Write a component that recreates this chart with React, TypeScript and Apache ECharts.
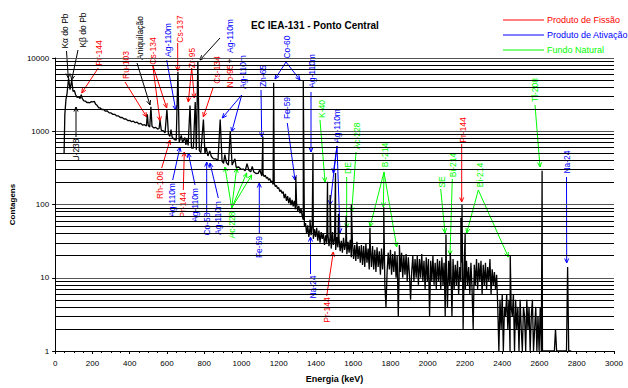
import React, { useEffect, useRef } from 'react';
import * as echarts from 'echarts';

// ---------- DATA ----------
// Low-energy part of the spectrum: [energy keV, counts]
const lowContinuum: [number, number][] = [
  [48, 500], [52, 1700], [58, 2700], [64, 3300],
  [110, 3150], [118, 2900], [126, 2950], [134, 2800], [146, 2780], [154, 2600], [162, 2580],
  [170, 2470], [178, 2480], [186, 2440], [194, 2540], [202, 2520], [210, 2560], [218, 2330],
  [226, 2240], [234, 2090], [242, 2080], [250, 1980], [260, 1990], [270, 1880], [280, 1890],
  [290, 1780], [300, 1780], [310, 1700], [320, 1700], [330, 1620], [340, 1620], [350, 1540],
  [360, 1540], [370, 1470], [380, 1470], [390, 1400], [400, 1410], [410, 1350], [420, 1370],
  [430, 1310], [440, 1330], [450, 1260], [460, 1280], [470, 1210], [480, 1230], [490, 1180],
  [500, 1200], [508, 1140], [520, 1170], [530, 1110], [540, 1130], [550, 1070], [558, 1090],
  [570, 1030], [580, 1020], [590, 950], [608, 910], [616, 850], [628, 830], [640, 770],
  [650, 755], [666, 705], [684, 700], [702, 650], [714, 640], [732, 590], [742, 590],
  [758, 560], [774, 545], [782, 510], [804, 495], [820, 460], [838, 455], [850, 420],
  [862, 420], [874, 395], [896, 390], [904, 365], [920, 370], [930, 345], [950, 345],
  [972, 322], [985, 325], [998, 302], [1010, 305], [1020, 288], [1040, 292], [1050, 280],
  [1066, 280], [1078, 265], [1090, 266],
];

// Noisy part of the spectrum: channel energies start at 1104 keV, 6 keV apart
const noisyStartEnergy = 1104;
const noisyStepEnergy = 6;
const noisyCounts: number[] = [
  268, 245, 262, 240, 250, 228, 236, 215, 226, 205,
  208, 188, 196, 176, 182, 165, 170, 150, 158, 142,
  150, 122, 140, 112, 130, 104, 124, 98, 116, 94,
  112, 86, 104, 82, 96, 76, 88, 70, 62, 50,
  56, 40, 52, 36, 48, 38, 54, 34, 46, 36,
  48, 32, 44, 30, 42, 34, 40, 28, 38, 30,
  40, 27, 36, 25, 38, 28, 34, 24, 36, 26,
  34, 23, 32, 22, 35, 24, 30, 21, 31, 22,
  33, 19, 30, 18, 28, 17, 31, 18, 27, 16,
  28, 15, 27, 14, 29, 16, 25, 13, 26, 14,
  27, 13, 24, 12, 26, 14, 23, 11, 25, 13,
  24, 8, 4, 12, 22, 13, 24, 11, 21, 12,
  23, 10, 20, 3, 18, 12, 22, 10, 20, 11,
  21, 9, 19, 11, 5, 12, 20, 9, 18, 10,
  20, 8, 18, 10, 21, 9, 17, 7, 19, 9,
  18, 3, 17, 9, 20, 8, 16, 7, 18, 9,
  17, 7, 19, 8, 16, 3, 15, 4, 17, 8,
  16, 3, 18, 7, 15, 8, 17, 6, 14, 9,
  16, 2, 15, 7, 17, 8, 14, 6, 16, 7,
  2, 15, 8, 18, 7, 16, 9, 17, 6, 15,
  8, 16, 7, 14, 9, 18, 6, 13, 8, 12,
  7, 11, 4, 1, 5, 2, 6, 1, 4, 3,
  6, 2, 5, 1, 4, 3, 6, 1, 5, 2,
  4, 1, 5, 2, 1, 4, 3, 1, 5, 2,
  4, 1, 3, 5, 1, 2, 4, 1, 3, 1,
  4, 1, 1, 1, 1, 1, 1,
];

// Empty channels after the Tl-208 line
const tailContinuum: [number, number][] = [
  [2646, 1], [2680, 1], [2692, 1], [2745, 1], [2757, 1], [2770, 1],
];

// Photopeaks: [energy keV, peak counts]
const peaks: [number, number][] = [
  [72, 5300], [80, 3700], [89, 5000], [96, 3500], [103, 3600], [140, 3150],
  [495, 1700], [514, 2150], [563, 1400], [600, 2000], [622, 1050], [659, 6500],
  [677, 880], [696, 820], [707, 780], [724, 2250], [752, 2500], [766, 8900],
  [796, 1450], [811, 600], [830, 540], [886, 1450], [911, 480], [940, 1000],
  [965, 420], [1030, 360], [1058, 330], [1099, 300],
  [1115, 850], [1173, 4600], [1292, 240], [1332, 4900], [1368, 62], [1384, 510],
  [1462, 205], [1476, 135], [1489, 42], [1505, 270], [1521, 75], [1562, 70],
  [1590, 100], [1690, 48], [1764, 92], [1848, 28], [2098, 39], [2121, 22],
  [2178, 66], [2184, 99], [2201, 41], [2443, 20], [2614, 290], [2686, 2], [2751, 14],
];

const decades = [1, 10, 100, 1000];
const minorMultipliers = [2, 3, 4, 5, 6, 7, 8, 9];

const legendItems = [
  { name: 'Produto de Fissão', color: '#ff0000' },
  { name: 'Produto de Ativação', color: '#0000ff' },
  { name: 'Fundo Natural', color: '#00ff00' },
];

// ---------- ANNOTATION LAYOUT (pixels) ----------
const RED = '#ff0000';
const BLUE = '#0000ff';
const GREEN = '#00ff00';
const BLACK = '#000000';

type Ann = { label: string; color: string; cx: number; cy: number; arrows: number[][] };
const annotations: Ann[] = [
  { label: 'Kα do Pb', color: BLACK, cx: 65, cy: 31, arrows: [[66.5, 51, 68.3, 78]] },
  { label: 'Kβ do Pb', color: BLACK, cx: 83, cy: 30, arrows: [[78, 50, 71.7, 80]] },
  { label: 'U-238', color: BLACK, cx: 76, cy: 150, arrows: [[76, 137, 76, 107]] },
  { label: 'Pr-144', color: RED, cx: 99, cy: 53, arrows: [[98.3, 68, 81.7, 93]] },
  { label: 'Ru-103', color: RED, cx: 126, cy: 65, arrows: [[125, 82, 146.7, 117]] },
  { label: 'Aniquilação', color: BLACK, cx: 140, cy: 38, arrows: [[137, 63, 150, 105]] },
  { label: 'Cs-134', color: RED, cx: 153.3, cy: 51, arrows: [[152.7, 65, 160, 121], [152.7, 65, 166.7, 108]] },
  { label: 'Ag-110m', color: BLUE, cx: 168.3, cy: 40, arrows: [[166.7, 60, 175.7, 110]] },
  { label: 'Cs-137', color: RED, cx: 180, cy: 29, arrows: [[177.7, 43, 177.7, 71]] },
  { label: 'Zr-95', color: RED, cx: 191.7, cy: 58, arrows: [[191.7, 68, 188.3, 102], [191.7, 68, 194.3, 98]] },
  { label: 'Cs-134', color: RED, cx: 216.7, cy: 70, arrows: [[213.3, 87, 203.3, 117]] },
  { label: 'Nb-95', color: RED, cx: 230, cy: 76, arrows: [] },
  { label: '+', color: BLACK, cx: 230, cy: 61, arrows: [[220, 38, 200, 60]] },
  { label: 'Ag-110m', color: BLUE, cx: 230, cy: 36, arrows: [] },
  { label: 'Ag-110m', color: BLUE, cx: 243.3, cy: 72, arrows: [[241.7, 95, 222.3, 118], [241.7, 95, 231.7, 132]] },
  { label: 'Zn-65', color: BLUE, cx: 263.3, cy: 76, arrows: [[261, 90, 261.7, 137]] },
  { label: 'Co-60', color: BLUE, cx: 287.3, cy: 47, arrows: [[286, 62, 275, 79], [286, 62, 300, 80]] },
  { label: 'Fe-59', color: BLUE, cx: 287.3, cy: 108, arrows: [[287.3, 123, 295, 180]] },
  { label: 'Ag-110m', color: BLUE, cx: 312.3, cy: 71, arrows: [[311, 92, 311, 152]] },
  { label: 'K-40', color: GREEN, cx: 322.3, cy: 109, arrows: [[320, 120, 325, 182]] },
  { label: 'Ag-110m', color: BLUE, cx: 337.3, cy: 126, arrows: [[337, 146, 330, 205], [337, 146, 333.3, 173], [337, 146, 340, 233]] },
  { label: 'DE', color: GREEN, cx: 348.3, cy: 168, arrows: [[346.7, 177, 346.7, 228]] },
  { label: 'Ac-228', color: GREEN, cx: 357.3, cy: 136, arrows: [[356, 152, 351.7, 212]] },
  { label: 'Bi-214', color: GREEN, cx: 385, cy: 155, arrows: [[384, 172, 370, 227], [384, 172, 383.3, 207], [384, 172, 396.7, 247]] },
  { label: 'SE', color: GREEN, cx: 441.7, cy: 182, arrows: [[440.7, 189, 445, 233]] },
  { label: 'Bi-214', color: GREEN, cx: 453.3, cy: 165, arrows: [[452.3, 179, 450, 255]] },
  { label: 'Pr-144', color: RED, cx: 462.7, cy: 130, arrows: [[461.7, 144, 461.7, 202]] },
  { label: 'Bi-214', color: GREEN, cx: 480, cy: 175, arrows: [[478.3, 190, 466.7, 233], [478.3, 190, 508.3, 257]] },
  { label: 'Tl-208', color: GREEN, cx: 535, cy: 90, arrows: [[535, 105, 540, 167]] },
  { label: 'Na-24', color: BLUE, cx: 566.7, cy: 162, arrows: [[566.5, 177, 566.7, 263]] },
  // labels below the spectrum
  { label: 'Rh-106', color: RED, cx: 160, cy: 185, arrows: [[161.7, 168, 170, 140]] },
  { label: 'Ag-110m', color: BLUE, cx: 171.7, cy: 200, arrows: [[172.7, 180, 180, 147]] },
  { label: 'Pr-144', color: RED, cx: 183.3, cy: 205, arrows: [[183.3, 190, 184.3, 152]] },
  { label: 'Ag-110m', color: BLUE, cx: 195, cy: 205, arrows: [[195, 185, 188.3, 153]] },
  { label: 'Co-58', color: BLUE, cx: 206.7, cy: 224, arrows: [[206.7, 213, 206.7, 162]] },
  { label: 'Ag-110m', color: BLUE, cx: 218.3, cy: 218, arrows: [[218.3, 198, 210, 163]] },
  { label: 'Ac-228', color: GREEN, cx: 231.7, cy: 225, arrows: [[231.7, 208, 225, 167], [231.7, 208, 236.7, 168], [231.7, 208, 246.7, 173], [231.7, 208, 251.7, 175]] },
  { label: 'Fe-59', color: BLUE, cx: 259.3, cy: 247, arrows: [[259.3, 233, 259.3, 183]] },
  { label: 'Na-24', color: BLUE, cx: 312.7, cy: 287, arrows: [[310.5, 274, 310.5, 237]] },
  { label: 'Pr-144', color: RED, cx: 327.3, cy: 310, arrows: [[326.7, 296, 333.3, 252]] },
];

const FONT_FAMILY = '"Liberation Sans", Arial, Helvetica, sans-serif';

function arrowElements(a: number[], color: string) {
  const [x1, y1, x2, y2] = a;
  const dx = x2 - x1;
  const dy = y2 - y1;
  const len = Math.hypot(dx, dy) || 1;
  const bx = -dx / len;
  const by = -dy / len;
  const L = 5;
  const ang = 0.42;
  const c = Math.cos(ang);
  const s = Math.sin(ang);
  const p1 = [x2 + L * (bx * c - by * s), y2 + L * (bx * s + by * c)];
  const p2 = [x2 + L * (bx * c + by * s), y2 + L * (-bx * s + by * c)];
  return [
    { type: 'line', silent: true, shape: { x1, y1, x2, y2 }, style: { stroke: color, lineWidth: 1 } },
    { type: 'polyline', silent: true, shape: { points: [p1, [x2, y2], p2] }, style: { stroke: color, fill: null, lineWidth: 1 } },
  ];
}

export default function App() {
  const ref = useRef<HTMLDivElement>(null);

  useEffect(() => {
    if (!ref.current) return;
    const chart = echarts.init(ref.current, null, { renderer: 'svg' });

    const noisy: [number, number][] = noisyCounts.map((c, i) => [noisyStartEnergy + i * noisyStepEnergy, c]);
    const spectrum = [...lowContinuum, ...noisy, ...tailContinuum, ...peaks].sort((a, b) => a[0] - b[0]);
    const minorGrid = decades.flatMap((d) => minorMultipliers.map((m) => d * m));

    const graphics: any[] = [];
    annotations.forEach((an) => {
      an.arrows.forEach((a) => graphics.push(...arrowElements(a, an.color)));
      graphics.push({
        type: 'text',
        silent: true,
        x: an.cx,
        y: an.cy,
        rotation: Math.PI / 2,
        style: {
          text: an.label,
          fill: an.color,
          font: `8.5px ${FONT_FAMILY}`,
          textAlign: 'center',
          textVerticalAlign: 'middle',
          align: 'center',
          verticalAlign: 'middle',
        },
      });
    });
    legendItems.forEach((it, i) => {
      const y = 20 + i * 15;
      graphics.push({ type: 'line', silent: true, shape: { x1: 503, y1: y, x2: 544, y2: y }, style: { stroke: it.color, lineWidth: 1 } });
      graphics.push({
        type: 'text',
        silent: true,
        x: 547,
        y,
        style: {
          text: it.name,
          fill: it.color,
          font: `9px ${FONT_FAMILY}`,
          textAlign: 'left',
          textVerticalAlign: 'middle',
          align: 'left',
          verticalAlign: 'middle',
        },
      });
    });

    chart.setOption({
      animation: false,
      backgroundColor: '#ffffff',
      textStyle: { fontFamily: FONT_FAMILY },
      title: {
        text: 'EC IEA-131 - Ponto Central',
        left: 315,
        top: 20,
        padding: 0,
        textAlign: 'center',
        textStyle: { fontSize: 10, fontWeight: 'bold', color: '#000', fontFamily: FONT_FAMILY },
      },
      grid: { left: 55, right: 14, top: 58, bottom: 30, containLabel: false },
      xAxis: {
        type: 'value',
        min: 0,
        max: 3000,
        interval: 200,
        name: 'Energia (keV)',
        nameLocation: 'middle',
        nameGap: 23,
        nameTextStyle: { fontSize: 9, fontWeight: 'bold', color: '#000', fontFamily: FONT_FAMILY },
        axisLine: { lineStyle: { color: '#000', width: 1 } },
        axisTick: { show: true, length: 3, lineStyle: { color: '#000' } },
        minorTick: { show: true, splitNumber: 4, length: 2, lineStyle: { color: '#000' } },
        axisLabel: { fontSize: 8, color: '#000', margin: 8, fontFamily: FONT_FAMILY, formatter: (v: number) => String(v) },
        splitLine: { show: false },
      },
      yAxis: {
        type: 'log',
        logBase: 10,
        min: 1,
        max: 10000,
        name: 'Contagens',
        nameLocation: 'middle',
        nameGap: 36,
        nameTextStyle: { fontSize: 8, fontWeight: 'bold', color: '#000', fontFamily: FONT_FAMILY },
        axisLine: { show: true, lineStyle: { color: '#000', width: 1 } },
        axisTick: { show: true, length: 3, lineStyle: { color: '#000' } },
        axisLabel: { fontSize: 8, color: '#000', margin: 6, fontFamily: FONT_FAMILY, formatter: (v: number) => String(Math.round(v)) },
        splitLine: { show: true, lineStyle: { color: '#555', width: 1 } },
      },
      series: [
        {
          type: 'line',
          data: spectrum,
          symbol: 'none',
          showSymbol: false,
          lineStyle: { color: '#000', width: 1.3 },
          itemStyle: { color: '#000' },
          silent: true,
          z: 3,
          markLine: {
            silent: true,
            symbol: ['none', 'none'],
            label: { show: false },
            lineStyle: { color: '#000', width: 1, type: 'solid' },
            emphasis: { disabled: true },
            data: minorGrid.map((v) => ({ yAxis: v })),
          },
        },
      ],
      graphic: graphics,
    });

    return () => chart.dispose();
  }, []);

  return <div ref={ref} style={{ position: 'absolute', left: 0, top: 0, width: 628, height: 388 }} />;
}
